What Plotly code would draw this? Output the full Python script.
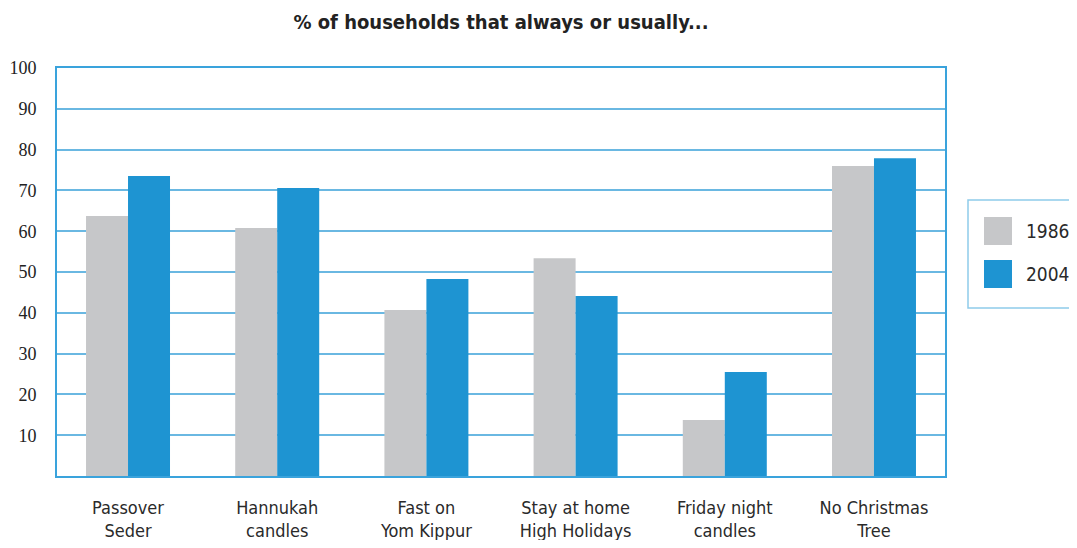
import plotly.graph_objects as go

categories = ["Passover<br>Seder", "Hannukah<br>candles", "Fast on<br>Yom Kippur",
              "Stay at home<br>High Holidays", "Friday night<br>candles", "No Christmas<br>Tree"]
series_names = ["1986", "2004"]
values_1986 = [63.7, 60.8, 40.7, 53.4, 13.7, 76.0]
values_2004 = [73.5, 70.6, 48.3, 44.1, 25.5, 77.9]
y_ticks = [10, 20, 30, 40, 50, 60, 70, 80, 90, 100]

GRAY = "#c6c7c9"
BLUE = "#1e94d2"
LINE = "#3aa3dc"
GRID = "#6ab8e2"
COND = "Liberation Sans Narrow, DejaVu Sans Condensed, Arial Narrow, sans-serif"

# the page body has an 8px margin; size the figure so the page never overflows
OFF = 8
W, H = 1077 - 2 * OFF, 548 - 2 * OFF
PLOT_L, PLOT_R, PLOT_T, PLOT_B = 57, 945, 68, 476  # window pixels of the plot area
ml, mr = PLOT_L - OFF, W - (PLOT_R - OFF)
mt, mb = PLOT_T - OFF, H - (PLOT_B - OFF)
pw, ph = W - ml - mr, H - mt - mb


def px(x):  # window pixel -> paper x
    return (x - OFF - ml) / pw


def py(y):  # window pixel -> paper y
    return (H - mb - (y - OFF)) / ph


fig = go.Figure()
fig.add_trace(go.Bar(x=categories, y=values_1986, name=series_names[0],
                     marker=dict(color=GRAY, line=dict(width=0)), showlegend=False))
fig.add_trace(go.Bar(x=categories, y=values_2004, name=series_names[1],
                     marker=dict(color=BLUE, line=dict(width=0)), showlegend=False))

shapes = [
    dict(type="rect", xref="paper", yref="paper", x0=px(968), x1=px(1100), y0=py(308), y1=py(200),
         line=dict(color="#8fcbea", width=1.5), fillcolor="rgba(0,0,0,0)", layer="above"),
    dict(type="rect", xref="paper", yref="paper", x0=px(984), x1=px(1012), y0=py(245), y1=py(217),
         line=dict(width=0), fillcolor=GRAY),
    dict(type="rect", xref="paper", yref="paper", x0=px(984), x1=px(1012), y0=py(288), y1=py(260),
         line=dict(width=0), fillcolor=BLUE),
]
annotations = [
    dict(xref="paper", yref="paper", x=px(1024), y=py(231), text=series_names[0], showarrow=False,
         xanchor="left", yanchor="middle", font=dict(family=COND, size=19, color="#2a2a2a")),
    dict(xref="paper", yref="paper", x=px(1024), y=py(274), text=series_names[1], showarrow=False,
         xanchor="left", yanchor="middle", font=dict(family=COND, size=19, color="#2a2a2a")),
]

fig.update_layout(
    width=W, height=H,
    margin=dict(l=ml, r=mr, t=mt, b=mb),
    paper_bgcolor="white", plot_bgcolor="white",
    barmode="group", bargap=0.437, bargroupgap=0,
    title=dict(text="<b>% of households that always or usually...</b>", x=0.5, xref="paper",
               xanchor="center", y=1 - (22 - OFF) / H, yanchor="middle",
               font=dict(family=COND, size=20, color="#222222")),
    shapes=shapes, annotations=annotations,
    showlegend=False,
)
fig.update_xaxes(range=[-0.476, 5.476], showline=True, linecolor=LINE, linewidth=2, mirror=True,
                 automargin=False, showgrid=False, ticks="", ticklabelstandoff=14,
                 tickfont=dict(family=COND, size=18, color="#2a2a2a"))
fig.update_yaxes(range=[0, 100], tickvals=y_ticks, showline=True, linecolor=LINE, linewidth=2,
                 mirror=True, showgrid=True, gridcolor=GRID, gridwidth=1.5, zeroline=False,
                 automargin=False, ticks="", ticklabelstandoff=15,
                 tickfont=dict(family="Liberation Serif, DejaVu Serif, serif", size=18, color="#222222"))

fig.write_html("out.html")
